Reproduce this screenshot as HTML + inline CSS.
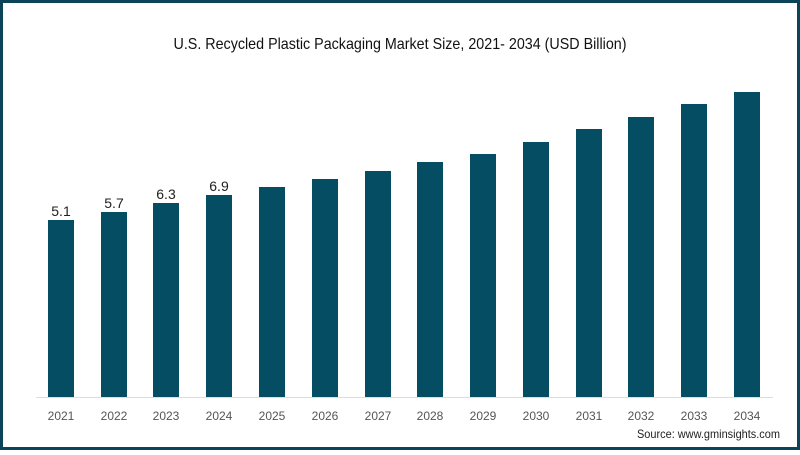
<!DOCTYPE html>
<html><head><style>
body{margin:0;width:800px;height:450px;overflow:hidden;background:#fff;font-family:"Liberation Sans",sans-serif}
</style></head><body>
<svg width="800" height="450" xmlns="http://www.w3.org/2000/svg">
<rect x="1.5" y="1.5" width="797" height="447" fill="#fff" stroke="#0b4458" stroke-width="3"/>
<text x="400" y="49" text-anchor="middle" font-size="16" fill="#111" textLength="453" lengthAdjust="spacingAndGlyphs">U.S. Recycled Plastic Packaging Market Size, 2021- 2034 (USD Billion)</text>
<line x1="36" y1="397.5" x2="773" y2="397.5" stroke="#ddd" stroke-width="1"/>
<g fill="#044d63">
<rect x="48" y="220" width="26" height="177"/>
<rect x="101" y="212" width="26" height="185"/>
<rect x="153" y="203" width="26" height="194"/>
<rect x="206" y="195" width="26" height="202"/>
<rect x="259" y="187" width="26" height="210"/>
<rect x="312" y="179" width="26" height="218"/>
<rect x="365" y="171" width="26" height="226"/>
<rect x="417" y="162" width="26" height="235"/>
<rect x="470" y="154" width="26" height="243"/>
<rect x="523" y="142" width="26" height="255"/>
<rect x="576" y="129" width="26" height="268"/>
<rect x="628" y="117" width="26" height="280"/>
<rect x="681" y="104" width="26" height="293"/>
<rect x="734" y="92" width="26" height="305"/>
</g>
<g font-size="14" fill="#222" text-anchor="middle">
<text x="61" y="216">5.1</text>
<text x="114" y="208">5.7</text>
<text x="166" y="199">6.3</text>
<text x="219" y="191">6.9</text>
</g>
<g font-size="12" fill="#555" text-anchor="middle">
<text x="61" y="420">2021</text><text x="114" y="420">2022</text><text x="166" y="420">2023</text><text x="219" y="420">2024</text>
<text x="272" y="420">2025</text><text x="325" y="420">2026</text><text x="378" y="420">2027</text><text x="430" y="420">2028</text>
<text x="483" y="420">2029</text><text x="536" y="420">2030</text><text x="589" y="420">2031</text><text x="641" y="420">2032</text>
<text x="694" y="420">2033</text><text x="747" y="420">2034</text>
</g>
<text x="780" y="438" text-anchor="end" font-size="12" fill="#222" textLength="143" lengthAdjust="spacingAndGlyphs">Source: www.gminsights.com</text>
</svg>
</body></html>
